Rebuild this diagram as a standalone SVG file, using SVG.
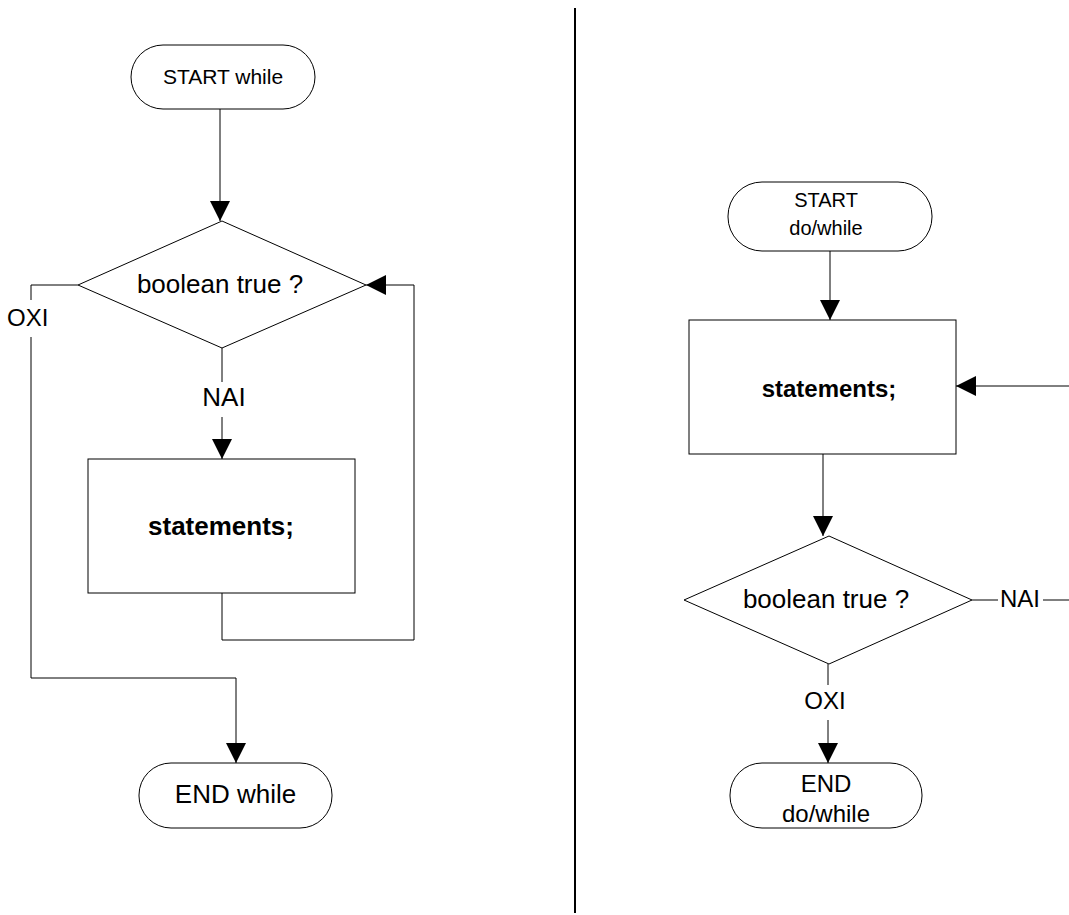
<svg xmlns="http://www.w3.org/2000/svg" width="1069" height="915" viewBox="0 0 1069 915">
<style>
.shape{fill:#fff;stroke:#000;stroke-width:1}
.conn{fill:none;stroke:#000;stroke-width:1}
text{font-family:"Liberation Sans",Arial,sans-serif;fill:#000;text-anchor:middle}
.b{font-weight:bold}
</style>
<defs>
<marker id="arr" markerUnits="userSpaceOnUse" markerWidth="20" markerHeight="20" refX="20" refY="10" orient="auto">
<path d="M0,0 L20,10 L0,20 z" fill="#000"/>
</marker>
</defs>
<rect width="1069" height="915" fill="#fff"/>
<line x1="575" y1="8" x2="575" y2="913" stroke="#000" stroke-width="2"/>
<g id="connectors">
<line class="conn" x1="220" y1="109" x2="220" y2="221" marker-end="url(#arr)"/>
<line class="conn" x1="222" y1="348" x2="222" y2="382"/>
<line class="conn" x1="222" y1="417" x2="222" y2="459" marker-end="url(#arr)"/>
<polyline class="conn" points="222,593 222,640 414,640 414,285 366,285" marker-end="url(#arr)"/>
<polyline class="conn" points="78,285 31,285 31,300"/>
<polyline class="conn" points="31,337 31,678 236,678 236,763" marker-end="url(#arr)"/>
<line class="conn" x1="830" y1="251" x2="830" y2="320" marker-end="url(#arr)"/>
<line class="conn" x1="1069" y1="386" x2="956" y2="386" marker-end="url(#arr)"/>
<line class="conn" x1="823" y1="454" x2="823" y2="536" marker-end="url(#arr)"/>
<line class="conn" x1="972" y1="600" x2="998" y2="600"/>
<line class="conn" x1="1043" y1="600" x2="1069" y2="600"/>
<line class="conn" x1="828" y1="664" x2="828" y2="685"/>
<line class="conn" x1="828" y1="720" x2="828" y2="763" marker-end="url(#arr)"/>
<text x="224" y="406" font-size="26">NAI</text>
<text x="7" y="326" font-size="24" style="text-anchor:start">OXI</text>
<text x="1000" y="607" font-size="24" style="text-anchor:start">NAI</text>
<text x="825" y="709" font-size="24">OXI</text>
</g>
<g id="start-while">
<rect class="shape" x="131" y="45" width="184" height="64" rx="32"/>
<text x="223" y="84" font-size="21">START while</text>
</g>
<g id="cond-while">
<polygon class="shape" points="222,221 366,285 222,348 78,285"/>
<text x="220" y="293" font-size="26">boolean true ?</text>
</g>
<g id="stmt-while">
<rect class="shape" x="88" y="459" width="267" height="134"/>
<text class="b" x="221" y="535" font-size="26">statements;</text>
</g>
<g id="end-while">
<rect class="shape" x="139" y="763" width="193" height="65" rx="32"/>
<text x="235.5" y="803" font-size="26">END while</text>
</g>
<g id="start-dowhile">
<rect class="shape" x="728" y="182" width="204" height="69" rx="34"/>
<text x="826" y="207" font-size="20">START</text>
<text x="826" y="235" font-size="20">do/while</text>
</g>
<g id="stmt-dowhile">
<rect class="shape" x="689" y="320" width="267" height="134"/>
<text class="b" x="829" y="397" font-size="24">statements;</text>
</g>
<g id="cond-dowhile">
<polygon class="shape" points="829,536 972,600 829,664 684,600"/>
<text x="826" y="608" font-size="26">boolean true ?</text>
</g>
<g id="end-dowhile">
<rect class="shape" x="730" y="763" width="192" height="65" rx="32"/>
<text x="826" y="792" font-size="24">END</text>
<text x="826" y="822" font-size="24">do/while</text>
</g>
</svg>
